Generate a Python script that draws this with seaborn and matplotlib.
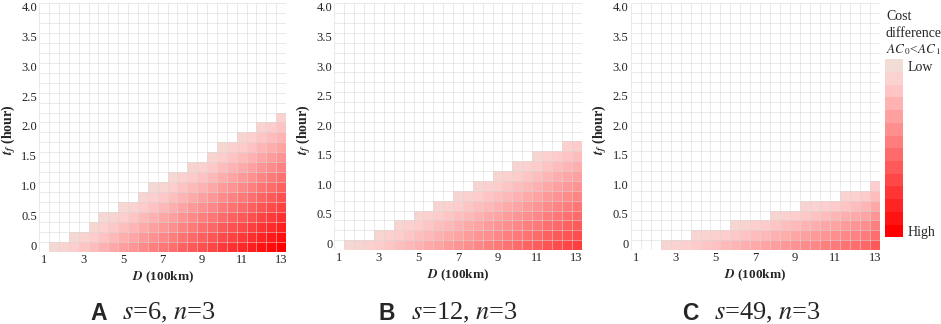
import numpy as np
import pandas as pd
import matplotlib
matplotlib.use('Agg')
import matplotlib.pyplot as plt
import seaborn as sns
from matplotlib.colors import LinearSegmentedColormap, Normalize
from matplotlib.cm import ScalarMappable

# distance D (100km) columns and departure time tf (minutes) rows
D_values = [1, 1.5, 2, 2.5, 3, 3.5, 4, 4.5, 5, 5.5, 6, 6.5, 7, 7.5, 8, 8.5,
            9, 9.5, 10, 10.5, 11, 11.5, 12, 12.5, 13]
tf_minutes = [0, 10, 20, 30, 40, 50, 60, 70, 80, 90, 100, 110, 120, 130, 140,
              150, 160, 170, 180, 190, 200, 210, 220, 230, 240]
x_ticks = [1, 3, 5, 7, 9, 11, 13]
y_ticks = [0, 30, 60, 90, 120, 150, 180, 210, 240]
y_tick_labels = ['0', '0.5', '1.0', '1.5', '2.0', '2.5', '3.0', '3.5', '4.0']

# cost difference per D column, listed from tf = 0 upwards (empty list = AC0 >= AC1 everywhere)
cost_A = [
    [], [0.3], [0.7], [1.1, 0.4], [1.5, 0.8], [1.9, 1.2, 0.5],
    [2.4, 1.7, 1.0, 0.3], [2.8, 2.1, 1.4, 0.7],
    [3.2, 2.5, 1.8, 1.1, 0.4], [3.6, 2.9, 2.2, 1.5, 0.8],
    [4.1, 3.4, 2.7, 2.0, 1.3, 0.6],
    [4.5, 3.8, 3.1, 2.4, 1.7, 1.0, 0.3], [4.9, 4.2, 3.5, 2.8, 2.1, 1.4, 0.7],
    [5.3, 4.6, 3.9, 3.2, 2.5, 1.8, 1.1, 0.4], [5.8, 5.1, 4.4, 3.7, 3.0, 2.3, 1.6, 0.9],
    [6.2, 5.5, 4.8, 4.1, 3.4, 2.7, 2.0, 1.3, 0.6], [6.6, 5.9, 5.2, 4.5, 3.8, 3.1, 2.4, 1.7, 1.0],
    [7.0, 6.3, 5.6, 4.9, 4.2, 3.5, 2.8, 2.1, 1.4, 0.7],
    [7.5, 6.8, 6.1, 5.4, 4.7, 4.0, 3.3, 2.6, 1.9, 1.2, 0.5],
    [7.9, 7.2, 6.5, 5.8, 5.1, 4.4, 3.7, 3.0, 2.3, 1.6, 0.9],
    [8.3, 7.6, 6.9, 6.2, 5.5, 4.8, 4.1, 3.4, 2.7, 2.0, 1.3, 0.6],
    [8.7, 8.0, 7.3, 6.6, 5.9, 5.2, 4.5, 3.8, 3.1, 2.4, 1.7, 1.0],
    [9.2, 8.5, 7.8, 7.1, 6.4, 5.7, 5.0, 4.3, 3.6, 2.9, 2.2, 1.5, 0.8],
    [9.6, 8.9, 8.2, 7.5, 6.8, 6.1, 5.4, 4.7, 4.0, 3.3, 2.6, 1.9, 1.2],
    [10.0, 9.3, 8.6, 7.9, 7.2, 6.5, 5.8, 5.1, 4.4, 3.7, 3.0, 2.3, 1.6, 0.9],
]
cost_B = [
    [], [0.3], [0.6], [0.9], [1.2, 0.6], [1.5, 0.9],
    [1.8, 1.2, 0.6], [2.1, 1.5, 0.9],
    [2.4, 1.8, 1.2, 0.6], [2.7, 2.1, 1.5, 0.9],
    [3.0, 2.4, 1.8, 1.2, 0.6], [3.3, 2.7, 2.1, 1.5, 0.9],
    [3.6, 3.0, 2.4, 1.8, 1.2, 0.6], [3.9, 3.3, 2.7, 2.1, 1.5, 0.9],
    [4.2, 3.6, 3.0, 2.4, 1.8, 1.2, 0.6], [4.5, 3.9, 3.3, 2.7, 2.1, 1.5, 0.9],
    [4.8, 4.2, 3.6, 3.0, 2.4, 1.8, 1.2, 0.6], [5.1, 4.5, 3.9, 3.3, 2.7, 2.1, 1.5, 0.9],
    [5.4, 4.8, 4.2, 3.6, 3.0, 2.4, 1.8, 1.2, 0.6],
    [5.7, 5.1, 4.5, 3.9, 3.3, 2.7, 2.1, 1.5, 0.9],
    [6.0, 5.4, 4.8, 4.2, 3.6, 3.0, 2.4, 1.8, 1.2, 0.6],
    [6.4, 5.8, 5.2, 4.6, 4.0, 3.4, 2.8, 2.2, 1.6, 1.0],
    [6.7, 6.1, 5.5, 4.9, 4.3, 3.7, 3.1, 2.5, 1.9, 1.3],
    [7.0, 6.4, 5.8, 5.2, 4.6, 4.0, 3.4, 2.8, 2.2, 1.6, 1.0],
    [7.3, 6.7, 6.1, 5.5, 4.9, 4.3, 3.7, 3.1, 2.5, 1.9, 1.3],
]
cost_C = [
    [], [], [], [0.6], [0.8], [1.0],
    [1.3, 0.5], [1.5, 0.7], [1.7, 0.9], [2.0, 1.1],
    [2.2, 1.4, 0.5], [2.5, 1.6, 0.8], [2.7, 1.9, 1.0], [3.0, 2.1, 1.3],
    [3.2, 2.4, 1.5, 0.6], [3.5, 2.6, 1.8, 0.9], [3.7, 2.9, 2.0, 1.2],
    [4.0, 3.1, 2.3, 1.4, 0.6], [4.2, 3.4, 2.5, 1.7, 0.8],
    [4.5, 3.6, 2.8, 1.9, 1.1], [4.7, 3.9, 3.0, 2.2, 1.3],
    [5.0, 4.2, 3.3, 2.5, 1.6, 0.8], [5.3, 4.4, 3.6, 2.7, 1.9, 1.0],
    [5.6, 4.7, 3.9, 3.0, 2.2, 1.3],
    [6.2, 5.3, 4.5, 3.6, 2.8, 1.9, 1.1],
]

panel_letters = ['A', 'B', 'C']
panel_params = ['$s$=6, $n$=3', '$s$=12, $n$=3', '$s$=49, $n$=3']


def to_frame(columns):
    grid = np.full((len(tf_minutes), len(D_values)), np.nan)
    for j, col in enumerate(columns):
        for i, v in enumerate(col):
            grid[i, j] = v
    return pd.DataFrame(grid, index=tf_minutes, columns=D_values)


sns.set_style('white')
plt.rcParams['font.family'] = ['Liberation Serif', 'DejaVu Serif']
plt.rcParams['mathtext.fontset'] = 'stix'

W, H = 941, 324
fig = plt.figure(figsize=(W / 100, H / 100), dpi=100)

cmap = LinearSegmentedColormap.from_list(
    'cost', [(0.0, '#f2dcd6'), (0.12, '#ffcccc'), (1.0, '#ff0000')])
vmin, vmax = 0, 10

# axes boxes in pixels: left, top, right, bottom
boxes = [(39.2, 3.3, 286.0, 251.6), (334.4, 3.4, 581.6, 250.0), (630.7, 3.4, 880.0, 250.0)]
caption_x = [90, 379, 682]

for k, (cols, box) in enumerate(zip([cost_A, cost_B, cost_C], boxes)):
    l, t, r, b = box
    ax = fig.add_axes([l / W, 1 - b / H, (r - l) / W, (b - t) / H])
    df = to_frame(cols)
    sns.heatmap(df, ax=ax, cmap=cmap, vmin=vmin, vmax=vmax, cbar=False)
    ax.invert_yaxis()

    # light grid over every cell edge
    ax.hlines(range(len(tf_minutes) + 1), 0, len(D_values), colors='#d8d8d8',
              linewidth=0.7, alpha=0.55, zorder=3)
    ax.vlines(range(len(D_values) + 1), 0, len(tf_minutes), colors='#d8d8d8',
              linewidth=0.7, alpha=0.55, zorder=3)

    ax.set_xticks([D_values.index(d) + 0.5 for d in x_ticks])
    ax.set_xticklabels([str(d) for d in x_ticks], rotation=0)
    ax.set_yticks([tf_minutes.index(v) + 0.5 for v in y_ticks])
    ax.set_yticklabels(y_tick_labels, rotation=0)
    ax.tick_params(length=0, labelsize=9, colors='#222222', pad=1.5)

    ax.set_xlabel(r'$\mathbfit{D}$ (100km)', fontsize=9.5, fontweight='bold')
    ax.xaxis.set_label_coords(0.5, -0.072)
    ax.set_ylabel(r'$\mathbfit{t}_{\mathbfit{f}}$ (hour)', fontsize=10, fontweight='bold')
    ax.yaxis.set_label_coords(-0.086, 0.49)
    for s in ax.spines.values():
        s.set_visible(False)

    fig.text(caption_x[k] / W, 1 - 313 / H, panel_letters[k], family='Liberation Sans',
             fontweight='bold', fontsize=16.5, va='center', ha='left')
    fig.text((caption_x[k] + 32) / W, 1 - 313 / H, panel_params[k], fontsize=19,
             va='center', ha='left')

# stepped legend bar, Low at the top
cax = fig.add_axes([885 / W, 1 - 237.3 / H, 18 / W, 178 / H])
sm = ScalarMappable(norm=Normalize(vmin, vmax), cmap=cmap.resampled(14))
cb = fig.colorbar(sm, cax=cax)
cb.outline.set_visible(False)
cax.invert_yaxis()
cb.set_ticks([vmax / 28, vmax - vmax / 28])
cb.set_ticklabels(['Low', 'High'])
cax.tick_params(length=0, labelsize=10, pad=3)
fig.text(886 / W, 1 - 25 / H, 'Cost\ndifference', fontsize=10, va='center', ha='left',
         linespacing=1.45)
fig.text(886 / W, 1 - 50 / H, r'$AC_{\,0}$<$AC_{\,1}$', fontsize=9.5, va='center', ha='left')

fig.savefig('out.png', dpi=100)
